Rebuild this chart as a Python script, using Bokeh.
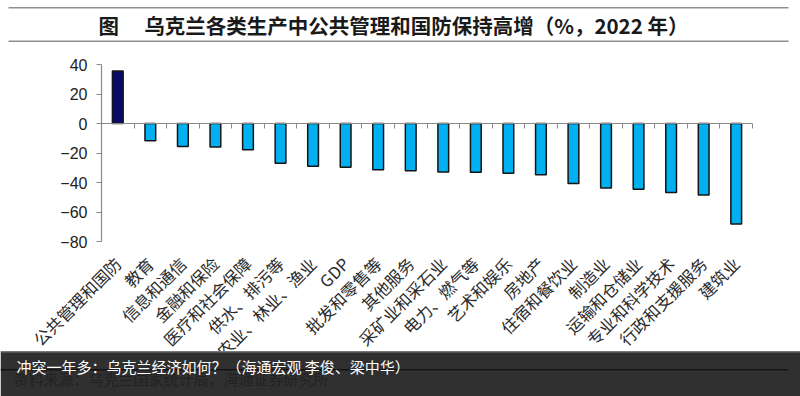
from math import pi
from bokeh.plotting import figure
from bokeh.models import (Range1d, LinearAxis, FixedTicker, Label, BoxAnnotation,
                          ColumnDataSource)
from bokeh.embed import file_html
from bokeh.resources import INLINE

# ---------------- data ----------------
categories = ["公共管理和国防", "教育", "信息和通信", "金融和保险", "医疗和社会保障",
              "供水、排污等", "农业、林业、渔业", "GDP", "批发和零售等", "其他服务",
              "采矿业和采石业", "电力、燃气等", "艺术和娱乐", "房地产", "住宿和餐饮业",
              "制造业", "运输和仓储业", "专业和科学技术", "行政和支援服务", "建筑业"]
values = [35.6, -11.7, -15.6, -16.0, -17.8,
          -26.9, -29.0, -29.7, -31.4, -32.1,
          -32.8, -33.0, -33.7, -34.8, -40.7,
          -43.7, -44.6, -46.7, -48.4, -68.2]
highlight = ["公共管理和国防"]
y_ticks = [-80, -60, -40, -20, 0, 20, 40]
y_min, y_max = -80, 40

title_text = "图　 乌克兰各类生产中公共管理和国防保持高增（%，2022 年）"
overlay_text = "冲突一年多：乌克兰经济如何？（海通宏观 李俊、梁中华）"
source_text = "资料来源：乌克兰国家统计局，海通证券研究所"

# ---------------- layout / styles ----------------
W, H = 800, 396
PX_L, PX_R, PX_T, PX_B = 101, 752, 64, 241   # plot area in canvas pixels
NAVY = "#0a0a6a"
CYAN = "#00b0f0"
AXIS_GRAY = "#8a8a8a"

n = len(categories)
xs = list(range(n))
colors = [NAVY if c in highlight else CYAN for c in categories]
src = ColumnDataSource(dict(x=xs, top=values, cat=categories, color=colors))

# the frame spans the whole canvas; ranges chosen so the plot area sits at PX_*
ux = n / (PX_R - PX_L)
uy = (y_max - y_min) / (PX_B - PX_T)
x_start = -0.5 - PX_L * ux
x_end = n - 0.5 + (W - PX_R) * ux
y_end = y_max + PX_T * uy
y_start = y_min - (H - PX_B) * uy

p = figure(width=W, height=H, output_backend="svg", toolbar_location=None,
           x_range=Range1d(x_start, x_end), y_range=Range1d(y_start, y_end),
           x_axis_type=None, y_axis_type=None, min_border=0)
p.outline_line_color = None
p.background_fill_color = "white"
p.border_fill_color = "white"

p.vbar(x="x", top="top", bottom=0, width=0.33, fill_color="color",
       line_color="#141414", line_width=1.5, source=src)

# y axis
yax = LinearAxis(fixed_location=-0.5, bounds=(y_min, y_max),
                 ticker=FixedTicker(ticks=y_ticks),
                 axis_line_color=AXIS_GRAY, axis_line_width=1.2,
                 major_tick_line_color=AXIS_GRAY, major_tick_out=5, major_tick_in=0,
                 minor_tick_line_color=None,
                 major_label_text_font="Liberation Sans",
                 major_label_text_font_size="16px",
                 major_label_text_color="#222222",
                 major_label_standoff=9)
p.add_layout(yax, "left")

# zero line axis with ticks between categories
zax = LinearAxis(fixed_location=0, bounds=(-0.5, n - 0.5),
                 ticker=FixedTicker(ticks=[i + 0.5 for i in xs]),
                 major_label_overrides={i + 0.5: "" for i in xs},
                 axis_line_color=AXIS_GRAY, axis_line_width=1.2,
                 major_tick_line_color=AXIS_GRAY, major_tick_out=5, major_tick_in=0,
                 minor_tick_line_color=None)
p.add_layout(zax, "below")

# category label axis under the plot area
xax = LinearAxis(fixed_location=y_min,
                 ticker=FixedTicker(ticks=xs),
                 major_label_overrides={i: c for i, c in zip(xs, categories)},
                 major_label_orientation=pi / 4,
                 axis_line_color=None, major_tick_line_color=None,
                 minor_tick_line_color=None,
                 major_label_text_font="Noto Sans CJK SC",
                 major_label_text_font_size="16.5px",
                 major_label_text_color="#2a2a2a",
                 major_label_standoff=13)
p.add_layout(xax, "below")


def hbox(top, bottom, left, right, color):
    return BoxAnnotation(left=left, right=right, top=top, bottom=bottom,
                         left_units="canvas", right_units="canvas",
                         top_units="canvas", bottom_units="canvas",
                         fill_color=color, fill_alpha=1.0, line_alpha=0)


# title with rules
p.add_layout(hbox(6.5, 8, 8, 788, "#8f8f8f"))
p.add_layout(hbox(40, 41.5, 8, 788, "#8f8f8f"))
p.add_layout(Label(x=393, y=24, x_units="canvas", y_units="canvas",
                   text=title_text, text_align="center", text_baseline="middle",
                   text_font="Noto Sans CJK SC", text_font_size="20.5px",
                   text_font_style="bold", text_color="#1a1a1a"))

# bottom overlay band
p.add_layout(hbox(351, H, 0, W, "#303030"))
p.add_layout(hbox(350.5, 352, 0, W, "#777777"))
p.add_layout(Label(x=13, y=378, x_units="canvas", y_units="canvas",
                   text=source_text, text_align="left", text_baseline="middle",
                   text_font="Noto Sans CJK SC", text_font_size="15px",
                   text_color="#222222"))
p.add_layout(hbox(368.5, 370, 0, 788, "#151515"))
p.add_layout(Label(x=16, y=366, x_units="canvas", y_units="canvas",
                   text=overlay_text, text_align="left", text_baseline="middle",
                   text_font="Noto Sans CJK SC", text_font_size="15px",
                   text_color="#ffffff"))

open("out.html", "w").write(file_html(p, INLINE))
